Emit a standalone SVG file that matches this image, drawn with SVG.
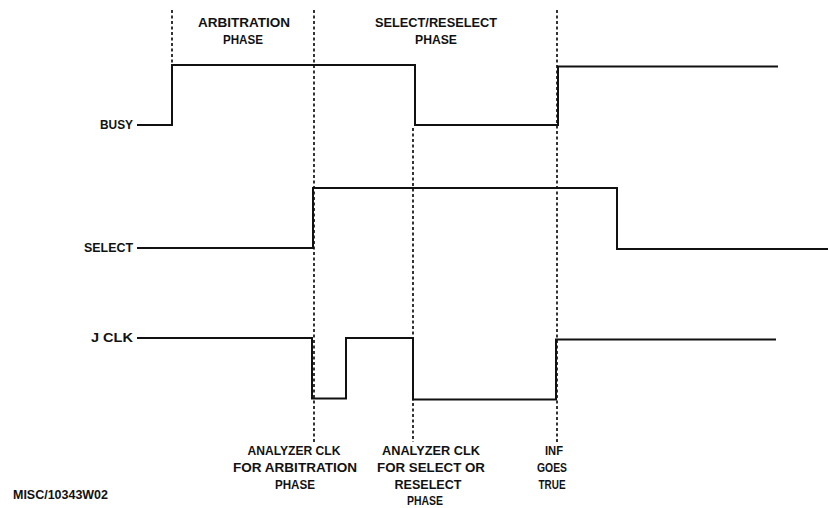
<svg xmlns="http://www.w3.org/2000/svg" width="828" height="508" viewBox="0 0 828 508">
<style>
  .bg { fill: #ffffff; }
  .sig { fill: none; stroke: #111; stroke-width: 2; stroke-linejoin: miter; stroke-linecap: butt; }
  .dash { fill: none; stroke: #111; stroke-width: 1.7; stroke-dasharray: 3 2.5; }
  .lbl { font-family: "Liberation Sans", Arial, sans-serif; font-weight: bold; font-size: 12.5px; fill: #111; }
  .mid { text-anchor: middle; }
  .end { text-anchor: end; }
</style>
<rect class="bg" x="0" y="0" width="828" height="508"/>

<g id="markers">
  <path class="dash" d="M172,10 V64"/>
  <path class="dash" d="M314,10 V442"/>
  <path class="dash" d="M413,128 V442"/>
  <path class="dash" d="M557,10 V442"/>
</g>

<g id="connectors">
  <path id="busy-wave" class="sig" d="M137,125 H172 V65 H415 V125 H558 V66.5 H778"/>
  <path id="select-wave" class="sig" d="M137,248 H313 V188 H617 V249 H828"/>
  <path id="jclk-wave" class="sig" d="M137,338 H312 V398.5 H346 V338 H413 V399.5 H556 V339.5 H776"/>
</g>

<g id="node-busy"><text class="lbl end" x="133" y="129" textLength="33" lengthAdjust="spacingAndGlyphs">BUSY</text></g>
<g id="node-select"><text class="lbl end" x="133" y="252" textLength="49" lengthAdjust="spacingAndGlyphs">SELECT</text></g>
<g id="node-jclk"><text class="lbl end" x="133" y="342" textLength="42" lengthAdjust="spacingAndGlyphs">J CLK</text></g>

<g id="node-arbitration-phase">
  <text class="lbl mid" x="244" y="27" textLength="92" lengthAdjust="spacingAndGlyphs">ARBITRATION</text>
  <text class="lbl mid" x="243" y="44" textLength="40" lengthAdjust="spacingAndGlyphs">PHASE</text>
</g>
<g id="node-select-phase">
  <text class="lbl mid" x="436" y="27" textLength="122" lengthAdjust="spacingAndGlyphs">SELECT/RESELECT</text>
  <text class="lbl mid" x="436" y="44" textLength="42" lengthAdjust="spacingAndGlyphs">PHASE</text>
</g>

<g id="node-analyzer-arb">
  <text class="lbl mid" x="294" y="455" textLength="93" lengthAdjust="spacingAndGlyphs">ANALYZER CLK</text>
  <text class="lbl mid" x="295" y="472" textLength="124" lengthAdjust="spacingAndGlyphs">FOR ARBITRATION</text>
  <text class="lbl mid" x="295" y="489" textLength="40" lengthAdjust="spacingAndGlyphs">PHASE</text>
</g>
<g id="node-analyzer-sel">
  <text class="lbl mid" x="431" y="455" textLength="98" lengthAdjust="spacingAndGlyphs">ANALYZER CLK</text>
  <text class="lbl mid" x="431" y="472" textLength="108" lengthAdjust="spacingAndGlyphs">FOR SELECT OR</text>
  <text class="lbl mid" x="428" y="489" textLength="67" lengthAdjust="spacingAndGlyphs">RESELECT</text>
  <text class="lbl mid" x="425" y="505" textLength="36" lengthAdjust="spacingAndGlyphs">PHASE</text>
</g>
<g id="node-inf">
  <text class="lbl mid" x="554" y="455" textLength="18" lengthAdjust="spacingAndGlyphs">INF</text>
  <text class="lbl mid" x="552" y="472" textLength="30" lengthAdjust="spacingAndGlyphs">GOES</text>
  <text class="lbl mid" x="552" y="489" textLength="27" lengthAdjust="spacingAndGlyphs">TRUE</text>
</g>

<g id="node-ref"><text class="lbl" x="13" y="499" textLength="95" lengthAdjust="spacingAndGlyphs">MISC/10343W02</text></g>
</svg>
